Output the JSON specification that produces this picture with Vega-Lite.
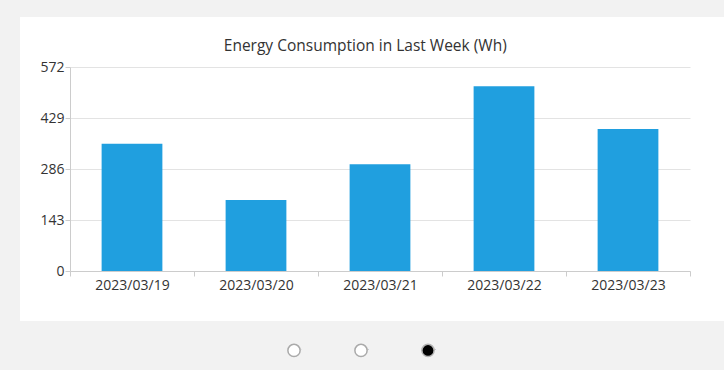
{
  "$schema": "https://vega.github.io/schema/vega-lite/v6.json",
  "width": 620,
  "height": 204,
  "autosize": {"type": "none"},
  "padding": {"left": 70, "top": 67, "right": 34, "bottom": 99},
  "background": "#f2f2f2",
  "view": {"fill": "#ffffff", "fillOpacity": 1, "stroke": "#ffffff", "strokeWidth": 100, "strokeJoin": "miter"},
  "title": {
    "text": "Energy Consumption in Last Week (Wh)",
    "frame": "bounds",
    "anchor": "middle",
    "fontSize": 15.5,
    "fontWeight": "normal",
    "color": "#333333",
    "font": "Open Sans",
    "offset": 6
  },
  "config": {
    "font": "Open Sans",
    "legend": {
      "orient": "none",
      "legendX": 217,
      "legendY": 276,
      "direction": "horizontal",
      "title": null,
      "labelExpr": "''",
      "symbolType": "circle",
      "symbolOpacity": 1,
      "labelOffset": 0,
      "labelFontSize": 1,
      "columnPadding": 47,
      "padding": 0
    }
  },
  "layer": [
    {
      "data": {
        "values": [
          {"date": "2023/03/19", "wh": 357},
          {"date": "2023/03/20", "wh": 199},
          {"date": "2023/03/21", "wh": 299},
          {"date": "2023/03/22", "wh": 518},
          {"date": "2023/03/23", "wh": 398}
        ]
      },
      "mark": {"type": "bar", "color": "#209fdf", "width": {"band": 0.49}},
      "encoding": {
        "x": {
          "field": "date",
          "type": "nominal",
          "sort": null,
          "scale": {"paddingInner": 0, "paddingOuter": 0},
          "axis": {
            "title": null,
            "labelAngle": 0,
            "tickBand": "extent",
            "domainColor": "#cccccc",
            "tickColor": "#cccccc",
            "tickSize": 5,
            "labelFontSize": 14,
            "labelColor": "#333333",
            "labelPadding": 2,
            "grid": false
          }
        },
        "y": {
          "field": "wh",
          "type": "quantitative",
          "scale": {"domain": [0, 572], "nice": false},
          "axis": {
            "title": null,
            "values": [0, 143, 286, 429, 572],
            "domainColor": "#cccccc",
            "tickColor": "#cccccc",
            "tickSize": 5,
            "gridColor": "#e3e3e3",
            "labelFontSize": 14,
            "labelColor": "#333333",
            "labelPadding": 1
          }
        }
      }
    },
    {
      "data": {"values": [{"page": "1"}, {"page": "2"}, {"page": "3"}]},
      "transform": [{"filter": "datum.page == 'none'"}],
      "mark": {"type": "point", "filled": true},
      "encoding": {
        "fill": {
          "field": "page",
          "type": "nominal",
          "scale": {"domain": ["1", "2", "3"], "range": ["white", "white", "black"]},
          "legend": {"title": null}
        },
        "stroke": {
          "field": "page",
          "type": "nominal",
          "scale": {"domain": ["1", "2", "3"], "range": ["#aaaaaa", "#aaaaaa", "#b4b4b4"]},
          "legend": {"title": null}
        },
        "size": {
          "field": "page",
          "type": "nominal",
          "scale": {"domain": ["1", "2", "3"], "range": [150, 150, 100]},
          "legend": {"title": null}
        },
        "strokeWidth": {
          "field": "page",
          "type": "nominal",
          "scale": {"domain": ["1", "2", "3"], "range": [1.5, 1.5, 3]},
          "legend": {"title": null}
        }
      }
    }
  ]
}
